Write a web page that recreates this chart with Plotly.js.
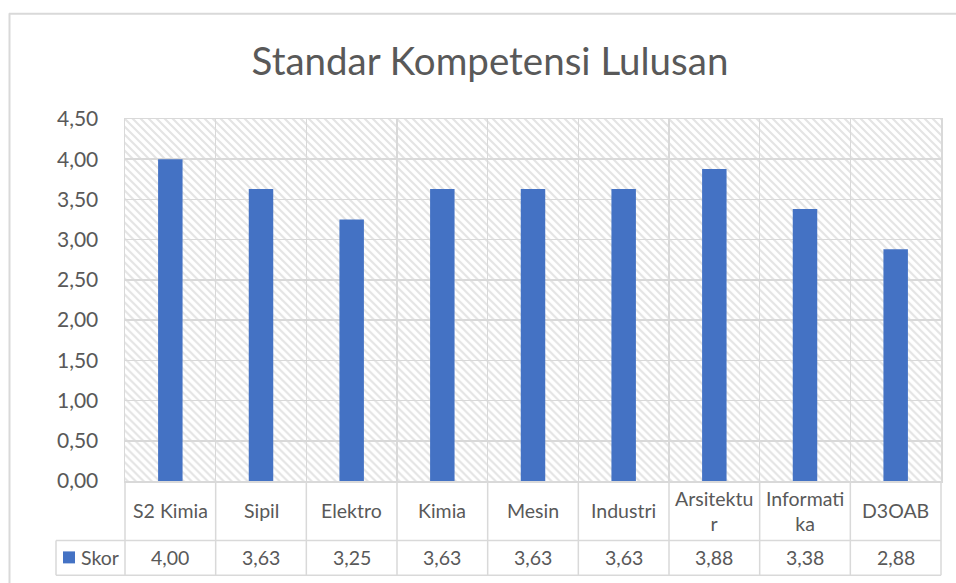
<!DOCTYPE html>
<html>
<head>
<meta charset="utf-8">
<script src="https://cdn.plot.ly/plotly-3.0.1.min.js"></script>
<style>html,body{margin:0;padding:0;background:#fff;}#chart{width:956px;height:583px;}</style>
</head>
<body>
<div id="chart"></div>
<script>
// ---- data ----
const categories = ["S2 Kimia", "Sipil", "Elektro", "Kimia", "Mesin", "Industri", "Arsitektur", "Informatika", "D3OAB"];
const tableLabels = ["S2 Kimia", "Sipil", "Elektro", "Kimia", "Mesin", "Industri", "Arsitektu<br>r", "Informati<br>ka", "D3OAB"];
const skor = [4.00, 3.63, 3.25, 3.63, 3.63, 3.63, 3.88, 3.38, 2.88];
const seriesName = "Skor";
const yTicks = [0, 0.5, 1, 1.5, 2, 2.5, 3, 3.5, 4, 4.5];
const chartTitle = "Standar Kompetensi Lulusan";

// ---- layout constants (pixels) ----
const W = 956, H = 583;
const L = 125, R = 941, T = 119, B = 481.5;
const pw = R - L, ph = B - T;
const px = p => (p - L) / pw;
const py = p => (B - p) / ph;

const FONT = "Lato, 'Open Sans', sans-serif";
const TXT = "#595959";
const GRID = "#d9d9d9";
const BLUE = "#4472C4";

const fmt = v => v.toFixed(2).replace(".", ",");

// hatch background image
const svg = `<svg xmlns="http://www.w3.org/2000/svg" width="${pw}" height="${ph}">
<defs><pattern id="h" patternUnits="userSpaceOnUse" width="8" height="8">
<path d="M-2,-2 L10,10 M-2,6 L2,10 M6,-2 L10,2" stroke="#e4e4e4" stroke-width="2.2"/>
</pattern></defs><rect width="100%" height="100%" fill="#ffffff"/><rect width="100%" height="100%" fill="url(#h)"/></svg>`;
const svgUri = "data:image/svg+xml;base64," + btoa(svg);

const trace = {
  type: "bar",
  x: categories,
  y: skor,
  name: seriesName,
  marker: {color: BLUE},
  width: 0.27,
  hoverinfo: "x+y"
};

const shapes = [];
const annotations = [];
const n = categories.length;
const lineStyle = {color: GRID, width: 1.5};

// table vertical lines at category boundaries
for (let i = 0; i <= n; i++) {
  shapes.push({type: "line", xref: "paper", yref: "paper", x0: i / n, x1: i / n, y0: 0, y1: py(576), line: lineStyle});
}
// table horizontal lines
shapes.push({type: "line", xref: "paper", yref: "paper", x0: px(56), x1: 1, y0: py(541), y1: py(541), line: lineStyle});
shapes.push({type: "line", xref: "paper", yref: "paper", x0: px(56), x1: 1, y0: py(576), y1: py(576), line: lineStyle});
shapes.push({type: "line", xref: "paper", yref: "paper", x0: px(56), x1: px(56), y0: py(541), y1: py(576), line: lineStyle});
// legend key
shapes.push({type: "rect", xref: "paper", yref: "paper", x0: px(63), x1: px(75), y0: py(564), y1: py(552), fillcolor: BLUE, line: {width: 0}});
// outer frame
const frame = {color: "#d9d9d9", width: 2};
shapes.push({type: "line", xref: "paper", yref: "paper", x0: px(9), x1: px(970), y0: py(13.5), y1: py(13.5), line: frame});
shapes.push({type: "line", xref: "paper", yref: "paper", x0: px(9.5), x1: px(9.5), y0: py(13), y1: py(590), line: frame});

const tableFont = {family: FONT, size: 19.5, color: TXT};
// category labels and values in table
categories.forEach((c, i) => {
  annotations.push({xref: "x", yref: "paper", x: c, y: py(511.5), text: tableLabels[i], showarrow: false,
    xanchor: "center", yanchor: "middle", font: tableFont});
  annotations.push({xref: "x", yref: "paper", x: c, y: py(558.5), text: fmt(skor[i]), showarrow: false,
    xanchor: "center", yanchor: "middle", font: tableFont});
});
annotations.push({xref: "paper", yref: "paper", x: px(79), y: py(558.5), text: seriesName, showarrow: false,
  xanchor: "left", yanchor: "middle", font: tableFont});

const layout = {
  width: W, height: H,
  margin: {l: L, r: W - R, t: T, b: H - B, pad: 0},
  paper_bgcolor: "#ffffff",
  plot_bgcolor: "rgba(0,0,0,0)",
  separators: ",.",
  showlegend: false,
  title: {text: chartTitle, font: {family: FONT, size: 38.5, color: TXT}, xref: "container", yref: "container",
    x: 490 / W, xanchor: "center", y: 1 - 62 / H, yanchor: "middle"},
  xaxis: {type: "category", range: [-0.5, n - 0.5], showticklabels: false, tickson: "boundaries",
    showgrid: true, gridcolor: GRID, gridwidth: 1.5, showline: true, linecolor: GRID, linewidth: 1.5, mirror: true,
    ticks: "", zeroline: false, fixedrange: true},
  yaxis: {range: [0, 4.5], tickvals: yTicks, tickformat: ".2f", showgrid: true, gridcolor: GRID, gridwidth: 1.5,
    showline: true, linecolor: GRID, linewidth: 1.5, mirror: true, zeroline: false, ticks: "",
    ticklabelstandoff: 21, tickfont: {family: FONT, size: 21, color: TXT}, fixedrange: true},
  images: [{source: svgUri, xref: "paper", yref: "paper", x: 0, y: 1, sizex: 1, sizey: 1,
    sizing: "stretch", xanchor: "left", yanchor: "top", layer: "below"}],
  shapes: shapes,
  annotations: annotations
};

Plotly.newPlot("chart", [trace], layout, {displayModeBar: false, staticPlot: true});
</script>
</body>
</html>
